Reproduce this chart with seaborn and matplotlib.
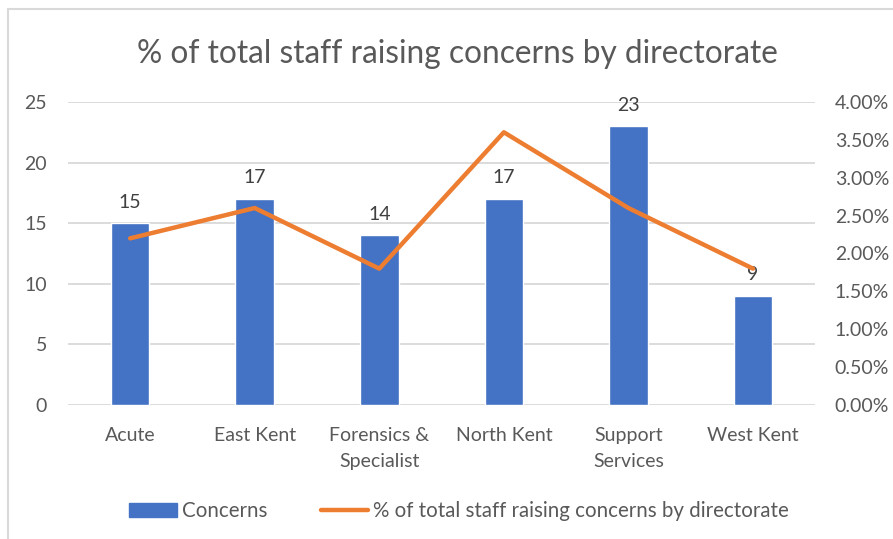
import matplotlib
matplotlib.use("Agg")
import matplotlib.pyplot as plt
import matplotlib.patches as mpatches
import matplotlib.lines as mlines
from matplotlib.ticker import PercentFormatter, MultipleLocator
import seaborn as sns
import pandas as pd

# Directorate data
directorates = ["Acute", "East Kent", "Forensics &\nSpecialist", "North Kent",
                "Support\nServices", "West Kent"]
concerns = [15, 17, 14, 17, 23, 9]
pct_staff = [0.022, 0.026, 0.018, 0.036, 0.026, 0.018]

title = "% of total staff raising concerns by directorate"
bar_label = "Concerns"
line_label = "% of total staff raising concerns by directorate"

BLUE = "#4472C4"
ORANGE = "#ED7D31"
GRID = "#D9D9D9"
TEXT = "#595959"
FS = 14

df = pd.DataFrame({"Directorate": directorates,
                   "Concerns": concerns,
                   "Pct": pct_staff})

sns.set_theme(style="white")
plt.rcParams["font.family"] = ["Lato", "DejaVu Sans"]

fig = plt.figure(figsize=(8.93, 5.39), dpi=100)
ax = fig.add_axes([0.076, 0.2486, 0.837, 0.5622])

sns.barplot(data=df, x="Directorate", y="Concerns", color=BLUE,
            width=0.31, saturation=1, ax=ax, zorder=2)
ax.set_ylim(0, 25)
ax.yaxis.set_major_locator(MultipleLocator(5))
ax.grid(axis="y", color=GRID, linewidth=1.3, zorder=0)
ax.set_axisbelow(True)
for s in ax.spines.values():
    s.set_visible(False)
ax.set_xlabel("")
ax.set_ylabel("")
ax.tick_params(axis="y", length=0, pad=15, labelsize=FS, labelcolor=TEXT)
ax.tick_params(axis="x", length=0, pad=16, labelsize=FS, labelcolor=TEXT)
for lbl in ax.get_xticklabels():
    lbl.set_linespacing(1.6)
ax.set_xlim(-0.5, len(directorates) - 0.5)

for container in ax.containers:
    ax.bar_label(container, padding=9, fontsize=FS, color="#404040")

ax2 = ax.twinx()
sns.lineplot(x=list(range(len(directorates))), y=pct_staff, color=ORANGE,
             linewidth=3.2, ax=ax2, zorder=3)
ax2.set_ylim(0, 0.04)
ax2.yaxis.set_major_locator(MultipleLocator(0.005))
ax2.yaxis.set_major_formatter(PercentFormatter(xmax=1, decimals=2))
ax2.tick_params(axis="y", length=0, pad=14, labelsize=FS, labelcolor=TEXT)
ax2.grid(False)
for s in ax2.spines.values():
    s.set_visible(False)
ax2.set_xlim(-0.5, len(directorates) - 0.5)

fig.text(0.512, 0.9, title, ha="center", va="center",
         fontsize=22.8, color=TEXT)

handles = [mpatches.Patch(color=BLUE, label=bar_label),
           mlines.Line2D([], [], color=ORANGE, linewidth=3.2, label=line_label)]
fig.legend(handles=handles, loc="center", bbox_to_anchor=(0.514, 0.052),
           ncol=2, frameon=False, fontsize=14.8, labelcolor=TEXT,
           handlelength=2.3, handleheight=0.65, handletextpad=0.25,
           columnspacing=2.6)

# Chart area outline
fig.patches.append(mpatches.Rectangle((8 / 893, -0.1), 1.2, 1.1 - 9 / 539,
                                      transform=fig.transFigure,
                                      fill=False, edgecolor=GRID, linewidth=1.5))

fig.savefig("out.png", dpi=100)
